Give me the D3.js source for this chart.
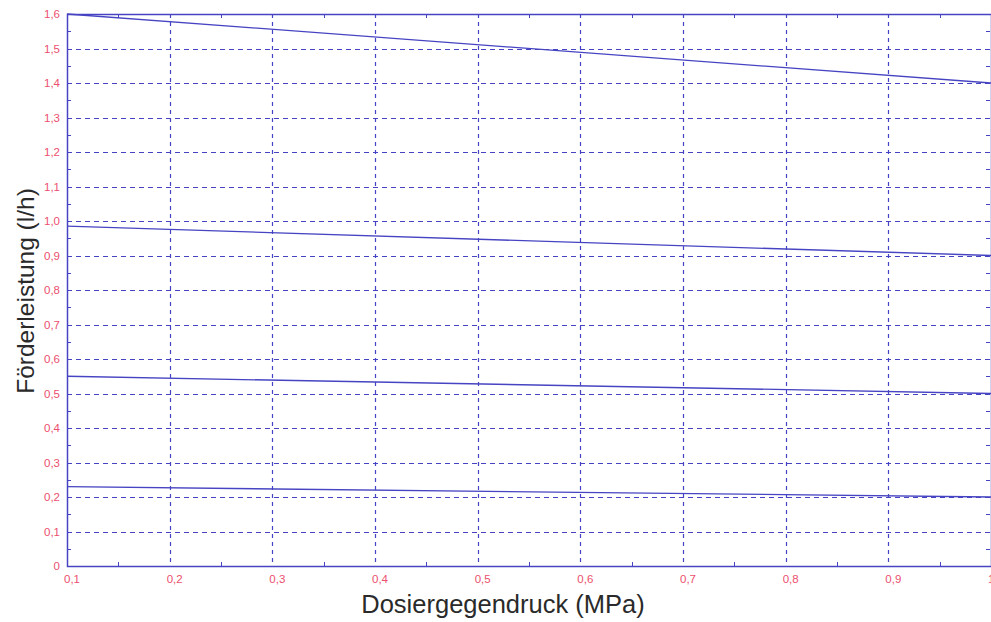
<!DOCTYPE html>
<html><head><meta charset="utf-8">
<script src="https://cdn.jsdelivr.net/npm/d3@7"></script>
<style>body{margin:0;background:#fff}svg{display:block}</style>
</head><body>
<svg id="c" width="991" height="622"></svg>
<script>
const xTicks = [0.1,0.2,0.3,0.4,0.5,0.6,0.7,0.8,0.9,1.0];
const xTickLabels = ["0,1","0,2","0,3","0,4","0,5","0,6","0,7","0,8","0,9","1"];
const yTicks = [0,0.1,0.2,0.3,0.4,0.5,0.6,0.7,0.8,0.9,1.0,1.1,1.2,1.3,1.4,1.5,1.6];
const yTickLabels = ["0","0,1","0,2","0,3","0,4","0,5","0,6","0,7","0,8","0,9","1,0","1,1","1,2","1,3","1,4","1,5","1,6"];
const pressure = [0.1, 1.0];
const series1 = [1.6, 1.4];
const series2 = [0.985, 0.9];
const series3 = [0.55, 0.5];
const series4 = [0.23, 0.2];
const allSeries = [series1, series2, series3, series4];
const xTitle = "Dosiergegendruck (MPa)";
const yTitle = "Förderleistung (l/h)";

const svg = d3.select("#c");
const blue = "#4644c2", red = "#ec4f6e";
const x = d3.scaleLinear().domain([0.1,1.0]).range([67,991]);
const y = d3.scaleLinear().domain([0,1.6]).range([566,14]);
const L=67,R=991,T=14,B=566;

// grid
const g = svg.append("g").attr("stroke",blue).attr("stroke-width",1.2).attr("fill","none");
g.selectAll(".gx").data(xTicks.slice(1,-1)).join("line")
 .attr("x1",d=>Math.round(x(d))+0.5).attr("x2",d=>Math.round(x(d))+0.5)
 .attr("y1",T).attr("y2",B).attr("stroke-dasharray","4,4");
g.selectAll(".gy").data(yTicks.slice(1,-1)).join("line")
 .attr("y1",d=>Math.round(y(d))+0.5).attr("y2",d=>Math.round(y(d))+0.5)
 .attr("x1",L).attr("x2",R).attr("stroke-dasharray","5,4");

// minor ticks
const mx = d3.range(0.15,1.0,0.1), my = d3.range(0.05,1.6,0.1);
const tk = svg.append("g").attr("stroke",blue).attr("stroke-width",1);
mx.forEach(v=>{const px=Math.round(x(v))+0.5;
 tk.append("line").attr("x1",px).attr("x2",px).attr("y1",B).attr("y2",B-4);
 tk.append("line").attr("x1",px).attr("x2",px).attr("y1",T).attr("y2",T+4);});
my.forEach(v=>{const py=Math.round(y(v))+0.5;
 tk.append("line").attr("x1",L).attr("x2",L+4).attr("y1",py).attr("y2",py);
 tk.append("line").attr("x1",R-1).attr("x2",R-5).attr("y1",py).attr("y2",py);});

// frame
svg.append("rect").attr("x",L+0.5).attr("y",T+0.5).attr("width",R-L).attr("height",B-T)
 .attr("fill","none").attr("stroke",blue).attr("stroke-width",1.5);

// data lines
const line = d3.line().x((d,i)=>x(pressure[i])).y(d=>y(d));
svg.append("g").selectAll("path").data(allSeries).join("path")
 .attr("d",line).attr("fill","none").attr("stroke",blue).attr("stroke-width",1.3);

// tick labels
svg.append("g").selectAll("text").data(yTicks).join("text")
 .attr("x",60).attr("y",d=>y(d)).attr("dy","0.35em").attr("text-anchor","end")
 .attr("font-family","Liberation Sans, Arial, sans-serif").attr("font-size",11.5).attr("fill",red)
 .text((d,i)=>yTickLabels[i]);
svg.append("g").selectAll("text").data(xTicks).join("text")
 .attr("x",d=>x(d)-3).attr("y",583).attr("text-anchor","start")
 .attr("font-family","Liberation Sans, Arial, sans-serif").attr("font-size",11.5).attr("fill",red)
 .text((d,i)=>xTickLabels[i]);

// titles
svg.append("text").attr("x",503).attr("y",613).attr("text-anchor","middle")
 .attr("font-family","Liberation Sans, Arial, sans-serif").attr("font-size",25.5).attr("fill","#2a2a2a")
 .text(xTitle);
svg.append("text").attr("transform","translate(34,291) rotate(-90)").attr("text-anchor","middle")
 .attr("font-family","Liberation Sans, Arial, sans-serif").attr("font-size",24.5).attr("fill","#2a2a2a")
 .text(yTitle);
</script>
</body></html>
